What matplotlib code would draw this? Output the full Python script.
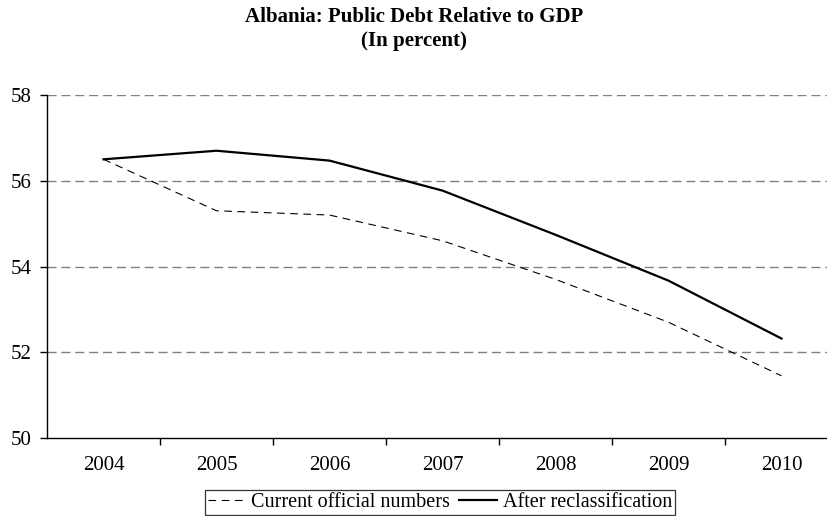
import matplotlib.pyplot as plt
import numpy as np

# Public debt, percent of GDP
years = ['2004', '2005', '2006', '2007', '2008', '2009', '2010']
current_official = [56.5, 55.3, 55.2, 54.6, 53.7, 52.7, 51.45]
after_reclass = [56.5, 56.7, 56.47, 55.77, 54.74, 53.67, 52.32]
y_ticks = [50, 52, 54, 56, 58]

plt.rcParams['font.family'] = ['Liberation Serif', 'DejaVu Serif']
plt.rcParams['lines.scale_dashes'] = False

fig = plt.figure(figsize=(8.28, 5.16), dpi=100)
ax = fig.add_axes([47 / 828, 1 - 438 / 516, 791 / 828, 343 / 516])

x = np.arange(len(years))
ax.plot(x, current_official, color='black', lw=0.8, dashes=(5.5, 4),
        label='Current official numbers', zorder=3)
ax.plot(x, after_reclass, color='black', lw=1.6,
        label='After reclassification', zorder=3)

ax.set_xlim(-0.5, len(years) - 0.5)
ax.set_ylim(50, 58)
ax.set_yticks(y_ticks)
ax.set_yticklabels([str(v) for v in y_ticks])
ax.set_xticks(x)
ax.set_xticklabels(years)
ax.set_xticks(np.arange(0.5, len(years) - 0.5), minor=True)

ax.tick_params(axis='x', which='major', length=0, pad=13, labelsize=15)
ax.tick_params(axis='x', which='minor', length=5, width=1, direction='out')
ax.tick_params(axis='y', length=5, width=1, direction='out', pad=6, labelsize=15)

for v in y_ticks[1:]:
    ax.axhline(v, color='#808080', lw=1.0, dashes=(6.5, 3.5), zorder=1)

for side in ['top', 'right']:
    ax.spines[side].set_visible(False)
for side in ['left', 'bottom']:
    ax.spines[side].set_linewidth(1.0)

fig.text(0.5, 1 - 17 / 516, 'Albania: Public Debt Relative to GDP',
         ha='center', va='center', fontsize=15, fontweight='bold')
fig.text(0.5, 1 - 41 / 516, '(In percent)',
         ha='center', va='center', fontsize=15, fontweight='bold')

leg = fig.legend(loc='center', bbox_to_anchor=(440 / 828, 1 - 502.5 / 516),
                 ncol=2, fontsize=14.5, frameon=True, fancybox=False,
                 edgecolor='black', handlelength=1.85, handletextpad=0.3,
                 columnspacing=0.45, borderpad=0.15, borderaxespad=0)
leg.get_frame().set_linewidth(0.9)

fig.savefig('out.png', dpi=100)
